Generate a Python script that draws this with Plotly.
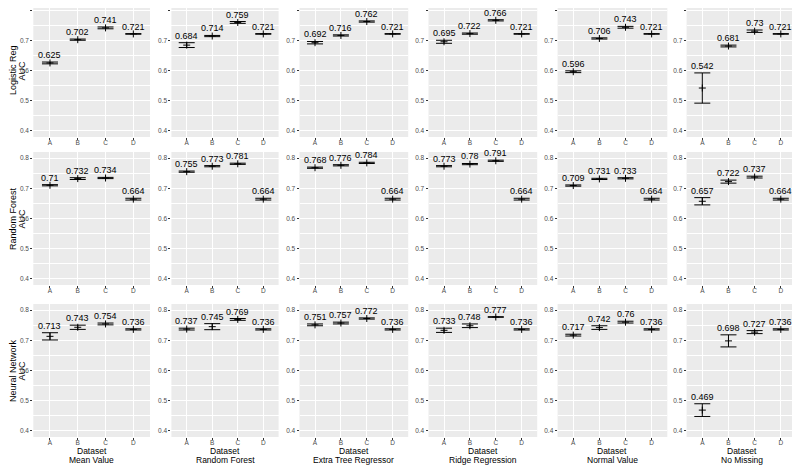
import plotly.graph_objects as go

# categories and facets
datasets = ['A', 'B', 'C', 'D']
methods = ['Mean Value', 'Random Forest', 'Extra Tree Regressor',
           'Ridge Regression', 'Normal Value', 'No Missing']
models = ['Logistic Reg', 'Random Forest', 'Neural Network']

# mean AUC per imputation method (one list per column)
logreg_auc = [
    [0.625, 0.702, 0.741, 0.721],
    [0.684, 0.714, 0.759, 0.721],
    [0.692, 0.716, 0.762, 0.721],
    [0.695, 0.722, 0.766, 0.721],
    [0.596, 0.706, 0.743, 0.721],
    [0.542, 0.681, 0.730, 0.721],
]
rf_auc = [
    [0.710, 0.732, 0.734, 0.664],
    [0.755, 0.773, 0.781, 0.664],
    [0.768, 0.776, 0.784, 0.664],
    [0.773, 0.780, 0.791, 0.664],
    [0.709, 0.731, 0.733, 0.664],
    [0.657, 0.722, 0.737, 0.664],
]
nn_auc = [
    [0.713, 0.743, 0.754, 0.736],
    [0.737, 0.745, 0.769, 0.736],
    [0.751, 0.757, 0.772, 0.736],
    [0.733, 0.748, 0.777, 0.736],
    [0.717, 0.742, 0.760, 0.736],
    [0.469, 0.698, 0.727, 0.736],
]

# error bar half widths
logreg_err = [
    [0.003, 0.002, 0.003, 0.001],
    [0.008, 0.002, 0.003, 0.001],
    [0.004, 0.002, 0.002, 0.001],
    [0.005, 0.002, 0.002, 0.001],
    [0.003, 0.002, 0.003, 0.001],
    [0.050, 0.003, 0.004, 0.001],
]
rf_err = [
    [0.002, 0.003, 0.002, 0.003],
    [0.002, 0.002, 0.002, 0.003],
    [0.002, 0.002, 0.002, 0.003],
    [0.002, 0.002, 0.002, 0.003],
    [0.002, 0.002, 0.002, 0.003],
    [0.012, 0.005, 0.003, 0.003],
]
nn_err = [
    [0.012, 0.007, 0.003, 0.002],
    [0.003, 0.010, 0.003, 0.002],
    [0.003, 0.003, 0.002, 0.002],
    [0.007, 0.006, 0.001, 0.002],
    [0.003, 0.006, 0.003, 0.002],
    [0.021, 0.020, 0.005, 0.002],
]

all_auc = [logreg_auc, rf_auc, nn_auc]
all_err = [logreg_err, rf_err, nn_err]

# page body adds an 8px margin, so the figure is drawn a bit smaller
OFF = 8
W, H = 800 - OFF, 467 - OFF
# panel pixel edges in the target picture
col_px = [(33.3, 150), (171.4, 278.6), (299.5, 408.2),
          (428.5, 537.2), (557.6, 667.3), (686.6, 796.5)]
row_px = [(4, 137), (152, 285), (304, 437)]
Y_LO, Y_HI = 0.38, 0.82

FONT = 'Liberation Sans, Arial, sans-serif'


def px_x(v):
    return (v - OFF) / W


def px_y(v):
    return 1 - (v - OFF) / H


def fmt(v):
    return f"{v:.3f}".rstrip('0').rstrip('.')


fig = go.Figure()
annotations = []

for r in range(3):
    for c in range(6):
        i = r * 6 + c + 1
        xs = 'x' if i == 1 else f'x{i}'
        ys = 'y' if i == 1 else f'y{i}'
        means = all_auc[r][c]
        errs = all_err[r][c]

        fig.add_trace(go.Scatter(
            x=datasets, y=means, xaxis=xs, yaxis=ys,
            mode='markers',
            marker=dict(symbol='cross-thin', size=5, color='black',
                        line=dict(width=1, color='black')),
            error_y=dict(type='data', array=errs, visible=True,
                         color='black', thickness=1, width=8),
            showlegend=False, hoverinfo='x+y'
        ))

        for d, m, e in zip(datasets, means, errs):
            annotations.append(dict(
                x=d, y=m + e, xref=xs, yref=ys, text=fmt(m),
                showarrow=False, yanchor='bottom', yshift=0,
                font=dict(family=FONT, size=9, color='black')
            ))

        x0, x1 = col_px[c]
        y0, y1 = row_px[r]
        # clip panel top to the figure while keeping the value->pixel scale
        y_hi = Y_HI
        if y0 < OFF:
            y_hi = Y_HI - (OFF - y0) * (Y_HI - Y_LO) / (y1 - y0)
            y0 = OFF
        xkey = 'xaxis' if i == 1 else f'xaxis{i}'
        ykey = 'yaxis' if i == 1 else f'yaxis{i}'
        fig.layout[xkey] = dict(
            domain=[px_x(x0), px_x(x1)], anchor=ys,
            type='category', range=[-0.6, 3.6],
            showgrid=True, gridcolor='white', gridwidth=1,
            ticks='outside', ticklen=2, tickcolor='#333333',
            ticklabelstandoff=-3,
            tickfont=dict(family=FONT, size=6.5, color='#4D4D4D'),
            zeroline=False, showline=False, fixedrange=True
        )
        fig.layout[ykey] = dict(
            domain=[px_y(y1), px_y(y0)], anchor=xs,
            range=[Y_LO, y_hi], tickvals=[0.4, 0.5, 0.6, 0.7, 0.8],
            showgrid=True, gridcolor='white', gridwidth=1,
            minor=dict(tickvals=[0.45, 0.55, 0.65, 0.75], showgrid=True,
                       gridcolor='white', gridwidth=0.5, ticks=''),
            ticks='outside', ticklen=2, tickcolor='#333333',
            tickfont=dict(family=FONT, size=6.5, color='#4D4D4D'),
            zeroline=False, showline=False, fixedrange=True
        )

# row titles (two lines, rotated)
for r, name in enumerate(models):
    y0, y1 = row_px[r]
    for xpos, txt in ((12.5, name), (21, 'AUC')):
        annotations.append(dict(
            x=px_x(xpos), y=px_y((y0 + y1) / 2), xref='paper', yref='paper',
            text=txt, textangle=-90, showarrow=False,
            xanchor='center', yanchor='middle',
            font=dict(family=FONT, size=9, color='black')
        ))

# bottom axis titles
for c, name in enumerate(methods):
    x0, x1 = col_px[c]
    for ypos, txt in ((451, 'Dataset'), (460, name)):
        annotations.append(dict(
            x=px_x((x0 + x1) / 2), y=px_y(ypos), xref='paper', yref='paper',
            text=txt, showarrow=False,
            xanchor='center', yanchor='middle',
            font=dict(family=FONT, size=8.5, color='black')
        ))

fig.update_layout(
    width=W, height=H,
    margin=dict(l=0, r=0, t=0, b=0),
    paper_bgcolor='white', plot_bgcolor='#EBEBEB',
    annotations=annotations,
    showlegend=False
)

fig.write_html("out.html")
